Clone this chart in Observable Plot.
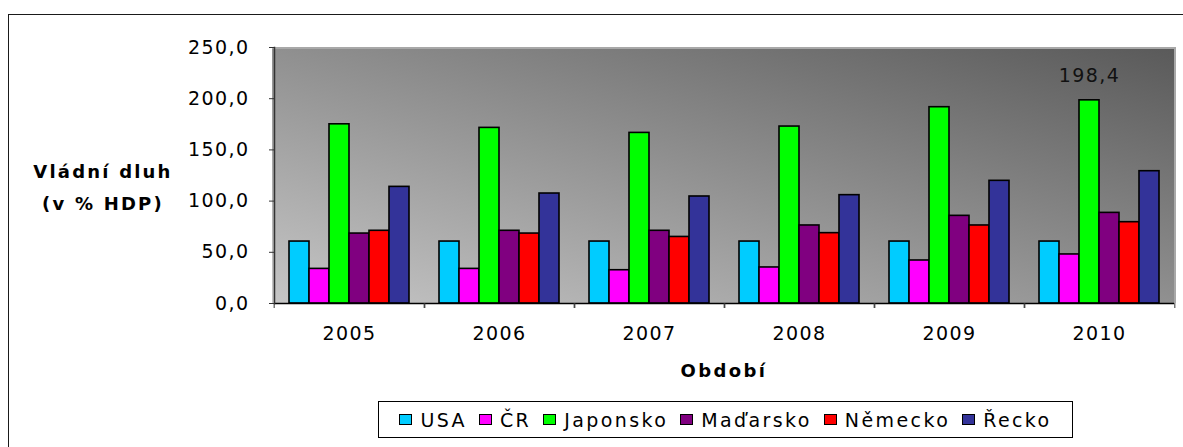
<!DOCTYPE html>
<html><head><meta charset="utf-8">
<script src="https://cdn.jsdelivr.net/npm/d3@7"></script>
<script src="https://cdn.jsdelivr.net/npm/@observablehq/plot@0.6"></script>
<style>
html,body{margin:0;padding:0;background:#fff;overflow:hidden;}
#wrap{position:relative;width:1183px;height:447px;font-family:"DejaVu Sans",sans-serif;color:#000;}
#frame{position:absolute;left:8px;top:14px;width:1300px;height:600px;border:1.5px solid #1a1a1a;}
#bg{position:absolute;left:272px;top:47px;width:904px;height:256px;background:linear-gradient(to top right,#c6c6c6,#5a5a5a);box-sizing:border-box;border-top:2px solid #a8a8a8;border-right:2px solid #a8a8a8;}
#chart{position:absolute;left:0;top:0;}
.ylab{position:absolute;left:20px;width:166px;text-align:center;font-weight:bold;font-size:18px;letter-spacing:2.2px;line-height:22px;}
#xlab{position:absolute;left:272px;width:904px;top:360px;text-align:center;font-weight:bold;font-size:18px;letter-spacing:2.4px;line-height:22px;}
#legend{position:absolute;left:378px;top:401px;width:695px;height:37px;box-sizing:border-box;border:1.5px solid #000;background:#fff;display:flex;align-items:center;justify-content:center;}
.item{display:flex;align-items:center;margin:0 6px;}
.sw{display:inline-block;width:11px;height:9px;border:1px solid #000;margin-right:8px;}
.lt{font-size:19px;letter-spacing:2.4px;line-height:22px;}
</style>
</head><body>
<div id="wrap">
  <div id="frame"></div>
  <div id="bg"></div>
  <div id="chart"></div>
  <div class="ylab" style="top:161px">Vládní dluh</div>
  <div class="ylab" style="top:193px">(v % HDP)</div>
  <div id="xlab">Období</div>
  <div id="legend"></div>
</div>
<script>
const years = ["2005", "2006", "2007", "2008", "2009", "2010"];
const countries = ["USA", "ČR", "Japonsko", "Maďarsko", "Německo", "Řecko"];
const colors = ["#00ccff", "#ff00ff", "#00ff00", "#800080", "#ff0000", "#333399"];
const usa      = [60.5, 60.5, 60.5, 60.5, 60.5, 60.5];
const cr       = [33.8, 33.8, 32.5, 35.2, 42.0, 47.9];
const japonsko = [175.0, 171.5, 166.6, 172.8, 191.7, 198.4];
const madarsko = [68.3, 71.0, 71.0, 76.2, 85.6, 88.5];
const nemecko  = [71.0, 68.3, 65.0, 68.7, 76.2, 79.4];
const recko    = [113.9, 107.4, 104.5, 105.8, 119.8, 129.2];
const yTicks = [0, 50, 100, 150, 200, 250];
const labelled = {country: "Japonsko", year: "2010"};

const series = [usa, cr, japonsko, madarsko, nemecko, recko];
const data = countries.flatMap((c, i) => years.map((y, j) => ({year: y, country: c, value: series[i][j]})));
const fmt = d => d.toFixed(1).replace(".", ",");

const W = 1183, H = 447, mL = 272, mR = 7;
const step = (W - mL - mR) / years.length;

const chart = Plot.plot({
  width: W, height: H,
  marginLeft: mL, marginRight: mR, marginTop: 47, marginBottom: 144,
  style: {background: "transparent", fontFamily: "DejaVu Sans", fontSize: "19px", letterSpacing: "1.4px", color: "#000", overflow: "visible"},
  fx: {domain: years, padding: 0, label: null},
  x: {domain: countries, paddingInner: 0, paddingOuter: 0.75, axis: null},
  y: {domain: [0, 250], label: null},
  color: {domain: countries, range: colors},
  marks: [
    Plot.barY(data, {fx: "year", x: "country", y: "value", fill: "country", stroke: "#000", strokeWidth: 1.6}),
    Plot.ruleY([0], {stroke: "#000", strokeWidth: 1.5}),
    Plot.frame({anchor: "left", facetAnchor: "left", stroke: "#333", strokeWidth: 1.5}),
    Plot.axisY({ticks: yTicks, tickSize: 5, tickPadding: 20, tickFormat: fmt, label: null, stroke: "#333"}),
    Plot.axisFx({anchor: "bottom", tickSize: 0, tickPadding: 23, label: null}),
    Plot.axisFx({anchor: "bottom", tickSize: 5, dx: -step / 2, tickFormat: () => "", label: null, stroke: "#333"}),
    Plot.axisFx({anchor: "bottom", tickSize: 5, dx: step / 2, tickFormat: () => "", label: null, stroke: "#333"}),
    Plot.text(data.filter(d => d.country === labelled.country && d.year === labelled.year),
      {fx: "year", x: "country", y: "value", text: d => fmt(d.value), dy: -24, fill: "#111"})
  ]
});
document.getElementById("chart").appendChild(chart);

const legend = document.getElementById("legend");
countries.forEach((c, i) => {
  const it = document.createElement("div");
  it.className = "item";
  const sw = document.createElement("span");
  sw.className = "sw";
  sw.style.background = colors[i];
  const t = document.createElement("span");
  t.className = "lt";
  t.textContent = c;
  it.appendChild(sw); it.appendChild(t);
  legend.appendChild(it);
});
</script>
</body></html>
